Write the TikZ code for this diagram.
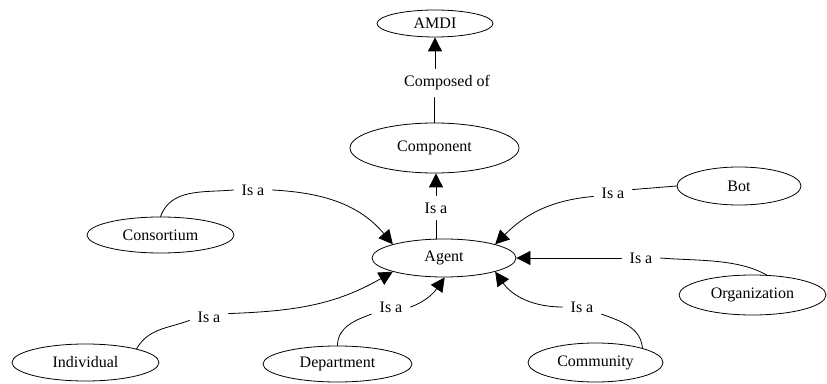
\documentclass[tikz,border=0pt]{standalone}
\usepackage{fontspec}
\setmainfont{Liberation Serif}
\newfontfamily\labelfont{Liberation Serif}
\usetikzlibrary{arrows.meta,shapes.geometric}

\begin{document}
\begin{tikzpicture}[line cap=round,line join=round,>={Triangle[length=14pt,width=14pt]},x=1pt,y=1pt,
  every node/.style={font=\labelfont\fontsize{16}{19}\selectfont},
  ell/.style={draw,ellipse,line width=0.8pt,inner sep=0pt},
  rel/.style={inner xsep=8pt,inner ysep=7pt},
  link/.style={line width=0.8pt}]
\useasboundingbox (0,0) rectangle (827,383);
\node[ell,minimum width=116,minimum height=27] (amdi) at (435,359.5) {AMDI};
\node[ell,minimum width=169,minimum height=50] (comp) at (434.5,235) {Component};
\node[ell,minimum width=144,minimum height=38] (agent) at (444,125) {Agent};
\node[ell,minimum width=147,minimum height=36] (cons) at (160.5,148) {Consortium};
\node[ell,minimum width=124,minimum height=38] (bot) at (739,197) {Bot};
\node[ell,minimum width=147,minimum height=40] (org) at (752.5,88) {Organization};
\node[ell,minimum width=147,minimum height=37] (indiv) at (85.5,20.5) {Individual};
\node[ell,minimum width=149,minimum height=36] (dept) at (337.5,19) {Department};
\node[ell,minimum width=135,minimum height=39] (comm) at (595.5,20.5) {Community};
\node[rel] (cof) at (447,300) {Composed of};
\node[rel] (isa0) at (436,175) {Is a};
\node[rel] (isac) at (253,193) {Is a};
\node[rel] (isab) at (613,190) {Is a};
\node[rel] (isao) at (641,125) {Is a};
\node[rel] (isai) at (209,66) {Is a};
\node[rel] (isad) at (391,76) {Is a};
\node[rel] (isam) at (582,76) {Is a};
\draw[link] (comp.north) -- (comp.north |- cof.south);
\draw[link,->] (amdi.south |- cof.north) -- (amdi.south);
\draw[link] (agent.north -| isa0.south) -- (isa0.south);
\draw[link,->] (isa0.north) -- (isa0.north |- comp.south);
\draw[link] (cons.north) to[out=70,in=185] (isac.west);
\draw[link,->] (isac.east) to[out=-3,in=130] (agent.165);
\draw[link] (bot.west) -- (isab.10);
\draw[link,->] (isab.190) to[out=185,in=45] (agent.15);
\draw[link] (org.55) to[out=150,in=-5,looseness=0.8] (isao.east);
\draw[link,->] (isao.west) -- (agent.east);
\draw[link] (indiv.15) to[out=60,in=200] (isai.190);
\draw[link,->] (isai.10) to[out=2,in=210] (agent.195);
\draw[link] (dept.north) to[out=90,in=200] (isad.200);
\draw[link,->] (isad.east) to[out=20,in=235] (agent.-88);
\draw[link] (comm.17) to[out=95,in=-20] (isam.-20);
\draw[link,->] (isam.west) to[out=180,in=-55] (agent.-15);
\end{tikzpicture}
\end{document}
